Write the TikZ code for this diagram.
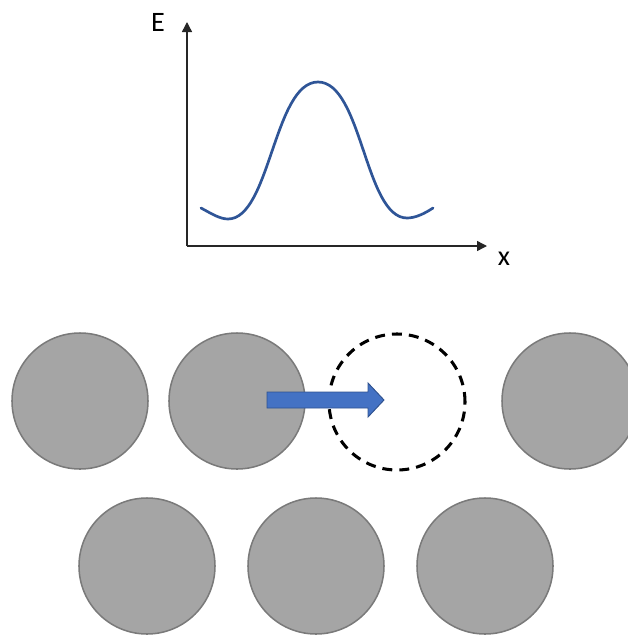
\documentclass[tikz,border=0pt]{standalone}
\usepackage{fontspec}
\setmainfont{Carlito}
\usepackage{xcolor}
\usetikzlibrary{arrows.meta,positioning}
\definecolor{ballfill}{HTML}{A5A5A5}
\definecolor{balledge}{HTML}{7A7A7A}
\definecolor{curveblue}{HTML}{2F5597}
\definecolor{pushblue}{HTML}{4472C4}
\definecolor{pushedge}{HTML}{2F528F}

\begin{document}
\begin{tikzpicture}[x=0.03cm, y=-0.03cm, >={Triangle[length=3mm,width=3mm]}]
\tikzstyle{ball}=[circle,fill=ballfill,draw=balledge,line width=1.3pt,minimum size=4.08cm,inner sep=0pt]
\tikzstyle{hole}=[circle,draw=black,line width=2.6pt,dash pattern=on 8.5pt off 6pt,minimum size=4.08cm,inner sep=0pt]
\tikzstyle{lbl}=[font=\fontsize{24}{24}\selectfont,inner sep=0pt]
\tikzstyle{axis}=[->,line width=1.2pt,draw=black!85]
\useasboundingbox (0,0) rectangle (628,637);
\clip (0,0) rectangle (628,637);
% energy curve
\coordinate (o) at (187,246);
\coordinate (ytop) at (187,22);
\coordinate (xend) at (487,246);
\draw[axis] (o) -- (ytop);
\draw[axis] (o) -- (xend);
\node[lbl] (E) at (158,22) {E};
\node[lbl] (x) at (504,259) {x};
\draw[curveblue,line width=2.3pt,line cap=round]
  (201,208) .. controls (212,214) and (220,219) .. (228,219)
  .. controls (270,219) and (274,82) .. (318,82)
  .. controls (362,82) and (365,218) .. (407,218)
  .. controls (415,218) and (424,214) .. (433,208);
% atoms, top row
\node[ball] (a1) at (80,401) {};
\node[ball] (a2) at (237,401) {};
\node[hole] (vac) at (397,402) {};
\node[ball] (a3) at (570,401) {};
% atoms, bottom row
\node[ball] (b1) at (147,566) {};
\node[ball] (b2) at (316,566) {};
\node[ball] (b3) at (485,566) {};
% jump into the vacancy
\coordinate (push) at (267,400);
\draw[fill=pushblue,draw=pushedge,line width=0.8pt]
  (push) ++(0,-8) -- ++(101,0) -- ++(0,-9) -- ++(16,17) -- ++(-16,17)
  -- ++(0,-9) -- ++(-101,0) -- cycle;
\end{tikzpicture}
\end{document}
